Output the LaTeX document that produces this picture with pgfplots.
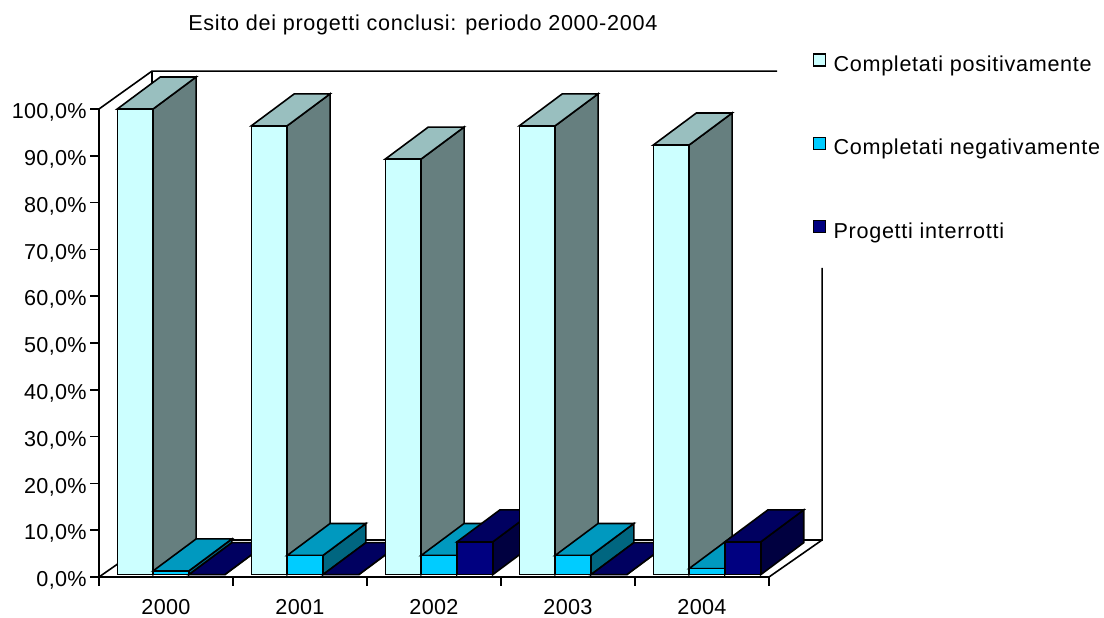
\documentclass[border=0pt]{standalone}
\usepackage{pgfplots}
\pgfplotsset{compat=1.18}
\usepackage{fontspec}
\setmainfont{Liberation Sans}
\newfontfamily\lsp[LetterSpace=3.3]{Liberation Sans}
\newfontfamily\lst[LetterSpace=1.5]{Liberation Sans}
\definecolor{lf}{HTML}{CCFFFF}\definecolor{lt}{HTML}{99BFBF}\definecolor{ls}{HTML}{667F7F}
\definecolor{bf}{HTML}{00CCFF}\definecolor{bt}{HTML}{0099BF}\definecolor{bs}{HTML}{006680}
\definecolor{nf}{HTML}{000080}\definecolor{nt}{HTML}{000060}\definecolor{ns}{HTML}{000040}
\newcommand\fullbar[6]{% category, series index, value, front, top, side
  \pgfmathsetmacro\xa{#1+0.1366+#2*0.2672}
  \pgfmathsetmacro\xb{\xa+0.2672}
  \pgfmathsetmacro\xc{\xa+0.321}
  \pgfmathsetmacro\xd{\xb+0.321}
  \pgfmathsetmacro\ya{0.5}
  \pgfmathsetmacro\yb{0.5+#3}
  \pgfmathsetmacro\yc{\ya+6.84}
  \pgfmathsetmacro\yd{\yb+6.84}
  \edef\tmp{%
    \noexpand\addplot[forget plot,fill=#6,draw=black,line width=1.2pt] coordinates {(\xb,\ya)(\xd,\yc)(\xd,\yd)(\xb,\yb)(\xb,\ya)} --cycle;
    \noexpand\addplot[forget plot,fill=#5,draw=black,line width=1.2pt] coordinates {(\xa,\yb)(\xb,\yb)(\xd,\yd)(\xc,\yd)(\xa,\yb)} --cycle;
    \noexpand\addplot[forget plot,fill=#4,draw=black,line width=1.2pt] coordinates {(\xa,\ya)(\xb,\ya)(\xb,\yb)(\xa,\yb)(\xa,\ya)} --cycle;
  }\tmp
}
\newcommand\cluster[4]{%
  \fullbar{#1}{0}{#2}{lf}{lt}{ls}
  \fullbar{#1}{1}{#3}{bf}{bt}{bs}
  \fullbar{#1}{2}{#4}{nf}{nt}{ns}
}
\begin{document}
\begin{tikzpicture}[x=1pt,y=1pt]
\path[use as bounding box] (-74.25pt,-30.75pt) rectangle (753.75pt,432.75pt);
\begin{axis}[
  at={(0pt,0pt)},anchor=origin,
  scale only axis,width=502.5pt,height=351pt,
  xmin=0,xmax=5,ymin=0,ymax=100,
  clip=false,
  axis x line=bottom,axis y line=left,
  axis line style={-,line width=1.2pt,black},
  xtick={0.5,1.5,2.5,3.5,4.5},
  xticklabels={2000,2001,2002,2003,2004},
  minor xtick={0,1,2,3,4,5},
  ytick={0,10,...,100},
  yticklabels={{0,0\%},{10,0\%},{20,0\%},{30,0\%},{40,0\%},{50,0\%},{60,0\%},{70,0\%},{80,0\%},{90,0\%},{100,0\%}},
  tick align=outside,
  major x tick style={draw=none},
  major y tick style={black,line width=1.2pt},
  minor tick style={black,line width=1.2pt},
  major tick length=6.5pt,minor tick length=6.5pt,
  tick label style={font=\fontsize{16.2pt}{18pt}\lst},
  x tick label style={inner sep=0pt,yshift=-10.2pt},
  y tick label style={xshift=0.8pt,yshift=-2.6pt},
  legend style={at={(535pt,393pt)},anchor=north west,draw=none,fill=none,
    row sep=47.25pt,inner sep=0pt,
    nodes={font=\fontsize{16.2pt}{18pt}\lsp,inner sep=0pt,anchor=west}},
  legend cell align=left,
  legend image code/.code={\draw[#1,draw=black,line width=1.2pt] (0pt,-1pt) rectangle (9pt,8pt);},
]
% walls
\addplot[forget plot,black,line width=1.2pt] coordinates {(0,100)(0.3955,108.1)(5.06,108.1)};
\addplot[forget plot,black,line width=1.2pt] coordinates {(0.3955,108.1)(0.3955,7.9)};
\addplot[forget plot,black,line width=1.2pt] coordinates {(0,0)(0.3955,7.9)(5.396,7.9)(5.396,66.03)};
\addplot[forget plot,black,line width=1.2pt] coordinates {(5,0)(5.396,7.9)};
\addlegendimage{fill=lf}\addlegendentry{\hspace*{5.5pt}Completati positivamente}
\addlegendimage{fill=bf}\addlegendentry{\hspace*{5.5pt}Completati negativamente}
\addlegendimage{fill=nf}\addlegendentry{\hspace*{5.5pt}Progetti interrotti}
\cluster{0}{99.5}{0.8}{0}
\cluster{1}{95.9}{4.1}{0}
\cluster{2}{88.8}{4.1}{7.0}
\cluster{3}{95.9}{4.1}{0}
\cluster{4}{91.8}{1.3}{7.0}
\end{axis}
\node[anchor=base west,inner sep=0pt,font=\fontsize{16.2pt}{18pt}\lsp] at (66.8pt,409.7pt) {Esito dei progetti conclusi: periodo 2000-2004};
\end{tikzpicture}
\end{document}
